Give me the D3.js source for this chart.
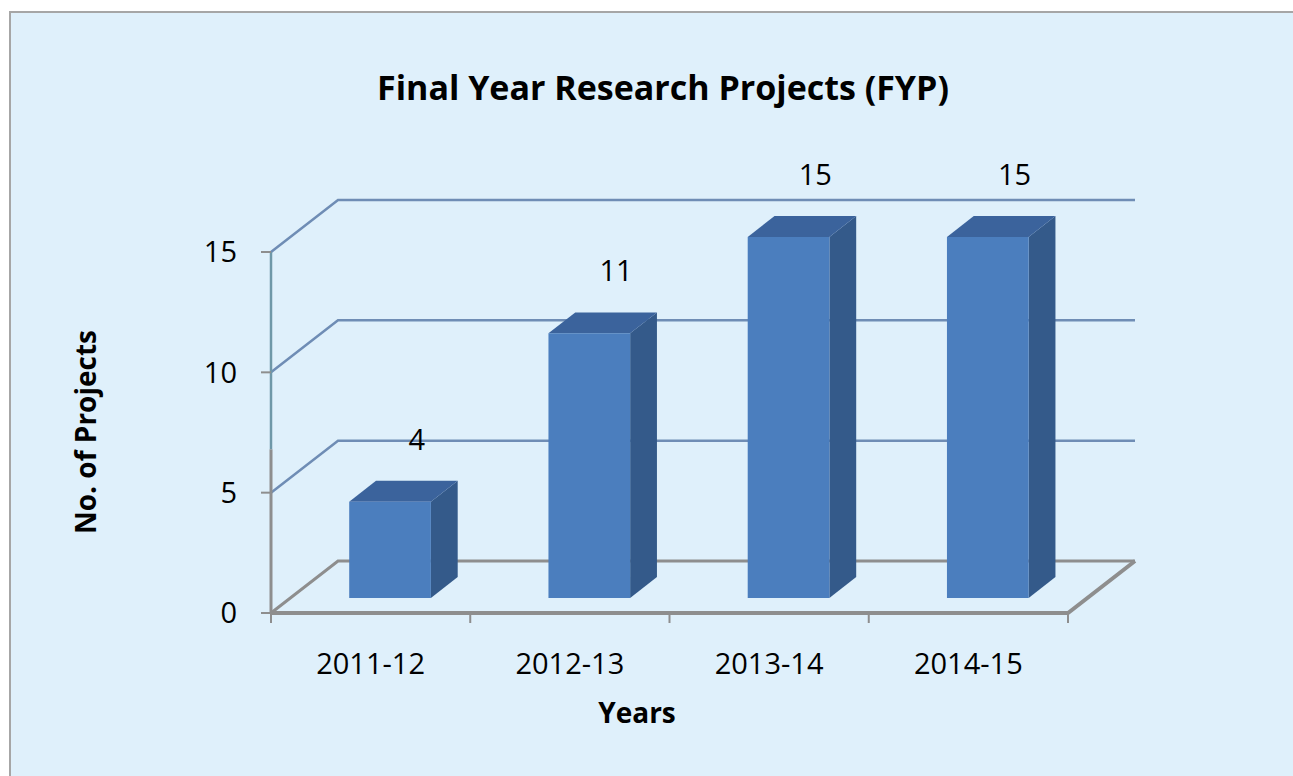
<!DOCTYPE html>
<html>
<head>
<meta charset="utf-8">
<script src="https://cdn.jsdelivr.net/npm/d3@7"></script>
<style>
  body { margin: 0; background: #fff; }
  svg { display: block; }
  text { font-family: "Open Sans", "Liberation Sans", sans-serif; fill: #000; }
</style>
</head>
<body>
<svg id="chart" width="1293" height="776"></svg>
<script>
// data
const categories = ['2011-12', '2012-13', '2013-14', '2014-15']
const projects = [4, 11, 15, 15]
const yTicks = [0, 5, 10, 15]

const svg = d3.select('#chart')

// chart area
svg.append('rect')
    .attr('x', 10).attr('y', 12)
    .attr('width', 1300).attr('height', 780)
    .attr('fill', '#dff0fb')
    .attr('stroke', '#a6a6a6')
    .attr('stroke-width', 2)

let x = d3.scaleBand().domain(categories).range([271, 1068])
let y = d3.scaleLinear().domain([0, 15]).range([613, 252])

// fake 3d: depth goes up and to the right
let depthX = 67
let depthY = -52
function proj(px, v, z) {
    return [px + z * depthX, y(v) + z * depthY]
}

let gridColor = '#6f8db5'
let floorColor = '#8e8e8e'
let line = d3.line()

// back wall + left wall gridlines
yTicks.forEach(function (v) {
    let c = v == 0 ? floorColor : gridColor
    let w = v == 0 ? 3 : 2.5
    svg.append('path')
        .attr('d', line([proj(271, v, 0), proj(271, v, 1), proj(1068, v, 1)]))
        .attr('fill', 'none')
        .attr('stroke', c)
        .attr('stroke-width', w)
})

// floor right edge + front edge
svg.append('path')
    .attr('d', line([proj(271, 0, 0), proj(1068, 0, 0), proj(1068, 0, 1)]))
    .attr('fill', 'none')
    .attr('stroke', floorColor)
    .attr('stroke-width', 4)

// front value axis (bluish on top, grey lower down like the original)
svg.append('line')
    .attr('x1', 271).attr('x2', 271)
    .attr('y1', y(15)).attr('y2', y(6.8))
    .attr('stroke', '#6f98a8')
    .attr('stroke-width', 2.5)
svg.append('line')
    .attr('x1', 271).attr('x2', 271)
    .attr('y1', y(6.8)).attr('y2', y(0))
    .attr('stroke', floorColor)
    .attr('stroke-width', 3)

// y ticks + labels
let yAxis = svg.append('g')
yAxis.selectAll('line')
    .data(yTicks)
    .enter()
    .append('line')
    .attr('x1', 261).attr('x2', 271)
    .attr('y1', d => y(d)).attr('y2', d => y(d))
    .attr('stroke', floorColor)
    .attr('stroke-width', 2)
yAxis.selectAll('text')
    .data(yTicks)
    .enter()
    .append('text')
    .attr('x', 237)
    .attr('y', d => y(d))
    .attr('dy', '0.36em')
    .attr('text-anchor', 'end')
    .style('font-size', '29px')
    .text(d => d)

// x ticks + labels
let xEdges = categories.map(c => x(c)).concat([x.range()[1]])
svg.selectAll('.xtick')
    .data(xEdges)
    .enter()
    .append('line')
    .attr('class', 'xtick')
    .attr('x1', d => d).attr('x2', d => d)
    .attr('y1', y(0)).attr('y2', y(0) + 10)
    .attr('stroke', floorColor)
    .attr('stroke-width', 2)
svg.selectAll('.xlabel')
    .data(categories)
    .enter()
    .append('text')
    .attr('class', 'xlabel')
    .attr('x', d => x(d) + x.bandwidth() / 2)
    .attr('y', 674)
    .attr('text-anchor', 'middle')
    .style('font-size', '29px')
    .text(d => d)

// bars
let barW = x.bandwidth() * 0.41
let z0 = 0.29
let z1 = 0.69
let bars = svg.selectAll('.bar')
    .data(projects)
    .enter()
    .append('g')
    .attr('class', 'bar')

function barLeft(i) {
    return x(categories[i]) + (x.bandwidth() - barW) / 2
}

// side
bars.append('path')
    .attr('d', function (v, i) {
        let r = barLeft(i) + barW
        return line([proj(r, 0, z0), proj(r, 0, z1), proj(r, v, z1), proj(r, v, z0)]) + 'Z'
    })
    .attr('fill', '#345a8a')
// top
bars.append('path')
    .attr('d', function (v, i) {
        let l = barLeft(i)
        let r = l + barW
        return line([proj(l, v, z0), proj(r, v, z0), proj(r, v, z1), proj(l, v, z1)]) + 'Z'
    })
    .attr('fill', '#3b639c')
// front
bars.append('path')
    .attr('d', function (v, i) {
        let l = barLeft(i)
        let r = l + barW
        return line([proj(l, 0, z0), proj(r, 0, z0), proj(r, v, z0), proj(l, v, z0)]) + 'Z'
    })
    .attr('fill', '#4b7ebe')

// value labels
svg.selectAll('.vlabel')
    .data(projects)
    .enter()
    .append('text')
    .attr('class', 'vlabel')
    .attr('x', (v, i) => proj(barLeft(i) + barW / 2, v, z1)[0])
    .attr('y', (v, i) => proj(0, v, z1)[1] - 31)
    .attr('text-anchor', 'middle')
    .style('font-size', '29px')
    .text(v => v)

// titles
svg.append('text')
    .attr('x', 663)
    .attr('y', 100)
    .attr('text-anchor', 'middle')
    .style('font-size', '34px')
    .style('font-weight', 'bold')
    .text('Final Year Research Projects (FYP)')

svg.append('text')
    .attr('x', 637)
    .attr('y', 723)
    .attr('text-anchor', 'middle')
    .style('font-size', '28px')
    .style('font-weight', 'bold')
    .text('Years')

svg.append('text')
    .attr('transform', 'translate(96,432) rotate(-90)')
    .attr('text-anchor', 'middle')
    .style('font-size', '28px')
    .style('font-weight', 'bold')
    .text('No. of Projects')
</script>
</body>
</html>
